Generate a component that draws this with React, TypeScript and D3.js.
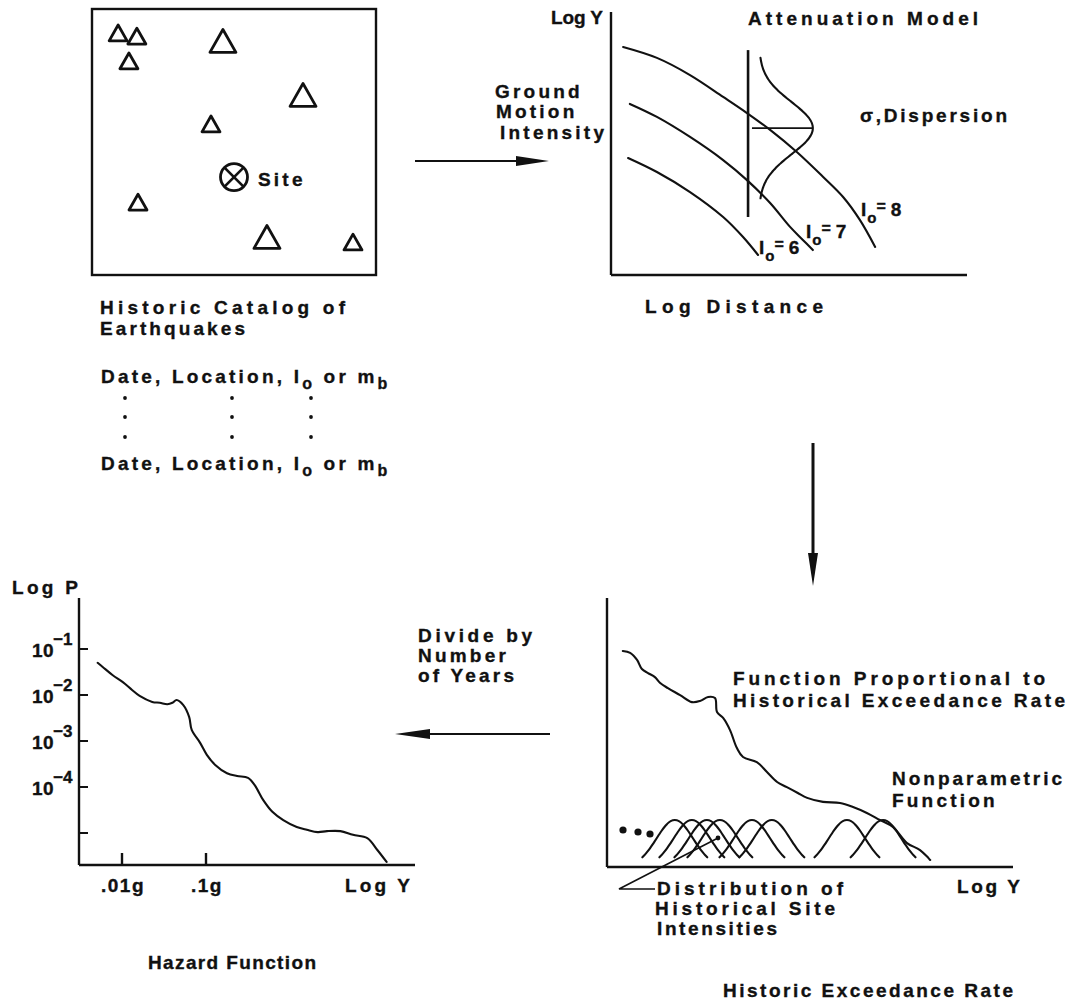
import React from 'react';
import * as d3 from 'd3';

const FONT = "'Liberation Sans', Arial, Helvetica, sans-serif";
const INK = '#111';

// ---------- Panel 1: historic catalog (map units 0..100) ----------
const quakeEast = [9.2, 15.8, 46.1, 13.0, 74.3, 41.9, 16.2, 61.6, 91.9];
const quakeNorth = [91.0, 89.8, 88.0, 80.5, 67.7, 56.8, 27.4, 14.3, 12.4];
const quakeIo = [6, 6, 7, 6, 7, 6, 6, 7, 6];
const siteEast = 50.0;
const siteNorth = 36.8;

// ---------- Panel 2: attenuation model (log distance / log Y, arbitrary units) ----------
const io8Dist = [3.4, 12.9, 22.2, 31.5, 38.2, 44.7, 52.2, 59.6, 65.2, 69.9, 74.2];
const io8LogY = [87.7, 83.5, 76.9, 68.5, 62.3, 55.8, 47.3, 37.7, 30.0, 21.2, 10.8];
const io7Dist = [5.3, 12.9, 22.2, 31.5, 38.2, 44.7, 50.3, 53.9, 56.7];
const io7LogY = [65.8, 60.8, 53.1, 44.2, 36.5, 27.7, 18.5, 13.5, 9.6];
const io6Dist = [4.8, 12.9, 22.2, 31.5, 37.1, 41.3];
const io6LogY = [45.0, 39.6, 31.9, 22.3, 14.6, 7.7];
const dispersionDist = 38.5;
const dispersionSpan = [22.3, 86.5];
const dispersionMean = 56.5;
const dispersionSigma = 10;
const dispersionPeak = 15.1;
const dispersionBase = 41.6;

// ---------- Panel 3: hazard function (log10 g, log10 P) ----------
const hazardLogG = [-2.29, -2.23, -2.11, -1.99, -1.88, -1.79, -1.64, -1.55, -1.46, -1.40, -1.35, -1.27, -1.20, -1.17, -1.07, -0.99, -0.89, -0.75, -0.63, -0.50, -0.42, -0.32, -0.21, -0.08, 0.08, 0.20, 0.33, 0.44, 0.60, 0.75, 0.92, 1.04, 1.15];
const hazardLogP = [-1.30, -1.39, -1.57, -1.72, -1.89, -2.02, -2.15, -2.17, -2.20, -2.17, -2.11, -2.22, -2.48, -2.76, -3.04, -3.30, -3.52, -3.70, -3.76, -3.80, -3.96, -4.28, -4.54, -4.72, -4.87, -4.93, -4.98, -4.96, -4.96, -5.04, -5.11, -5.37, -5.63];
const hazardPTicks = [-1, -2, -3, -4, -5];
const hazardPTickLabels = ['−1', '−2', '−3', '−4', ''];
const hazardGTicks = [-2, -1];
const hazardGTickLabels = ['.01g', '.1g'];

// ---------- Panel 4: historic exceedance rate (log Y / function, arbitrary units) ----------
const exceedLogY = [3.9, 5.7, 7.4, 8.6, 10.1, 11.8, 13.1, 15.0, 18.0, 20.9, 22.9, 24.9, 26.6, 27.1, 28.6, 30.3, 32.0, 33.5, 36.9, 39.4, 41.9, 44.3, 47.0, 49.3, 53.2, 57.4, 60.6, 64.0, 67.2, 70.4, 73.9, 77.1, 79.6];
const exceedValue = [80.3, 79.6, 77.0, 73.6, 72.1, 70.6, 68.4, 66.5, 63.9, 61.3, 61.7, 63.2, 62.8, 57.6, 55.4, 50.9, 44.2, 40.9, 39.0, 35.3, 31.6, 29.7, 27.5, 25.7, 24.2, 23.8, 22.3, 20.1, 17.5, 14.9, 8.9, 6.3, 2.6];
const siteIntensities = [16.7, 20.9, 24.6, 27.8, 35.7, 40.6, 59.1, 68.0];
const kernelPeak = 17.5;
const kernelSigma = 4.5;
const kernelHalfWidth = 8;

const txt: React.CSSProperties = {
  fontFamily: FONT,
  fontWeight: 700,
  fontSize: 19,
  letterSpacing: 3.2,
  fill: INK,
  stroke: INK,
  strokeWidth: 0.35,
};

function T(props: { x: number; y: number; children: React.ReactNode; size?: number; ls?: number; anchor?: string; len?: number }) {
  const { x, y, children, size, ls, anchor, len } = props;
  const style: React.CSSProperties = { ...txt, fontSize: size || 19, letterSpacing: len ? 0 : ls === undefined ? 3.2 : ls };
  return (
    <text
      x={x}
      y={y}
      textAnchor={anchor || 'start'}
      style={style}
      {...(len ? { textLength: len, lengthAdjust: 'spacing' } : {})}
    >
      {children}
    </text>
  );
}

function Arrow(props: { x1: number; y1: number; x2: number; y2: number; head: number; half: number; w: number }) {
  const { x1, y1, x2, y2, head, half, w } = props;
  const dx = x2 - x1, dy = y2 - y1;
  const len = Math.hypot(dx, dy);
  const ux = dx / len, uy = dy / len;
  const bx = x2 - ux * head, by = y2 - uy * head;
  const px = -uy, py = ux;
  const pts = [
    [x2, y2],
    [bx + px * half, by + py * half],
    [bx - px * half, by - py * half],
  ];
  return (
    <g>
      <line x1={x1} y1={y1} x2={bx} y2={by} stroke={INK} strokeWidth={w} />
      <polygon points={pts.map((p) => p.join(',')).join(' ')} fill={INK} />
    </g>
  );
}

function IoLabel(props: { x: number; y: number; n: string }) {
  const { x, y, n } = props;
  return (
    <text x={x} y={y} style={{ ...txt, letterSpacing: 0 }}>
      I
      <tspan dx={1} dy={7} style={{ fontSize: 15 }}>o</tspan>
      <tspan dx={0} dy={-11} style={{ fontSize: 16 }}>=</tspan>
      <tspan dx={5} dy={4}>{n}</tspan>
    </text>
  );
}

export default function App() {
  // Panel 1 scales
  const mx = d3.scaleLinear().domain([0, 100]).range([92, 376]);
  const my = d3.scaleLinear().domain([0, 100]).range([275, 9]);
  const triW = d3.scaleLinear().domain([6, 7]).range([18, 26]);
  const triPath = (w: number) => {
    const h = w * 0.88;
    return `M0,${-h / 2}L${w / 2},${h / 2}L${-w / 2},${h / 2}Z`;
  };

  // Panel 2 scales
  const ax = d3.scaleLinear().domain([0, 100]).range([611, 967]);
  const ay = d3.scaleLinear().domain([0, 100]).range([275, 15]);
  const attLine = d3
    .line<[number, number]>()
    .x((d) => ax(d[0]))
    .y((d) => ay(d[1]))
    .curve(d3.curveCatmullRom);
  const zip = (a: number[], b: number[]) => a.map((v, i) => [v, b[i]] as [number, number]);
  const bellT = d3.range(-27, 27.01, 0.5);
  const bell = d3
    .line<number>()
    .x((t) => ax(dispersionBase + dispersionPeak * Math.exp(-(t * t) / (2 * dispersionSigma * dispersionSigma))))
    .y((t) => ay(dispersionMean + t))
    .curve(d3.curveBasis)(bellT);

  // Panel 3 scales
  const hx = d3.scaleLinear().domain([-2, -1]).range([122, 206]);
  const hy = d3.scaleLinear().domain([-1, -5]).range([649, 833]);
  const hazLine = d3
    .line<[number, number]>()
    .x((d) => hx(d[0]))
    .y((d) => hy(d[1]))
    .curve(d3.curveCatmullRom)(zip(hazardLogG, hazardLogP));

  // Panel 4 scales
  const ex = d3.scaleLinear().domain([0, 100]).range([607, 1013]);
  const ey = d3.scaleLinear().domain([0, 100]).range([867, 598]);
  const exLine = d3
    .line<[number, number]>()
    .x((d) => ex(d[0]))
    .y((d) => ey(d[1]))
    .curve(d3.curveCatmullRom)(zip(exceedLogY, exceedValue));
  const kOff = d3.range(-kernelHalfWidth, kernelHalfWidth + 0.01, 0.5);
  const kernel = (c: number) =>
    d3
      .line<number>()
      .x((d) => ex(c + d))
      .y((d) => ey(kernelPeak * Math.exp(-(d * d) / (2 * kernelSigma * kernelSigma))))
      .curve(d3.curveBasis)(kOff);

  const lineProps = { stroke: INK, strokeWidth: 2.1, fill: 'none', strokeLinejoin: 'round' as const, strokeLinecap: 'round' as const };

  return (
    <svg width={1079} height={1007} style={{ position: 'absolute', left: 0, top: 0, background: '#fff' }}>
      <rect x={0} y={0} width={1079} height={1007} fill="#fff" />

      {/* ---------- Panel 1 ---------- */}
      <rect x={mx(0)} y={my(100)} width={mx(100) - mx(0)} height={my(0) - my(100)} fill="none" stroke={INK} strokeWidth={2.4} />
      {quakeEast.map((e, i) => (
        <path
          key={i}
          d={triPath(triW(quakeIo[i]))}
          transform={`translate(${mx(e)},${my(quakeNorth[i])})`}
          fill="none"
          stroke={INK}
          strokeWidth={2.8}
          strokeLinejoin="round"
        />
      ))}
      <g transform={`translate(${mx(siteEast)},${my(siteNorth)})`}>
        <circle r={13.5} fill="none" stroke={INK} strokeWidth={2.8} />
        <line x1={-9.5} y1={-9.5} x2={9.5} y2={9.5} stroke={INK} strokeWidth={2.6} />
        <line x1={-9.5} y1={9.5} x2={9.5} y2={-9.5} stroke={INK} strokeWidth={2.6} />
      </g>
      <T x={258} y={186}>Site</T>

      <T x={100} y={314} len={245}>Historic Catalog of</T>
      <T x={100} y={335} len={145}>Earthquakes</T>
      {[383, 470].map((yy) => (
        <text key={yy} x={101} y={yy} style={txt}>
          Date, Location, I
          <tspan dy={6} style={{ fontSize: 16 }}>o</tspan>
          <tspan dy={-6}> or m</tspan>
          <tspan dy={6} style={{ fontSize: 16 }}>b</tspan>
        </text>
      ))}
      {[125, 232, 311].map((cx) =>
        [398, 417, 437].map((cy) => <circle key={`${cx}-${cy}`} cx={cx} cy={cy} r={1.9} fill={INK} />)
      )}

      {/* arrow to attenuation */}
      <Arrow x1={415} y1={161} x2={549} y2={161} head={33} half={5} w={1.8} />
      <T x={495} y={98}>Ground</T>
      <T x={496} y={118}>Motion</T>
      <T x={500} y={139} len={104}>Intensity</T>

      {/* ---------- Panel 2 ---------- */}
      <line x1={ax(0)} y1={ay(100) - 3} x2={ax(0)} y2={ay(0)} stroke={INK} strokeWidth={2.4} />
      <line x1={ax(0)} y1={ay(0)} x2={ax(100)} y2={ay(0)} stroke={INK} strokeWidth={2.4} />
      <T x={551} y={24} len={52}>Log Y</T>
      <T x={748} y={25} len={230}>Attenuation Model</T>
      <path d={attLine(zip(io8Dist, io8LogY)) || ''} {...lineProps} />
      <path d={attLine(zip(io7Dist, io7LogY)) || ''} {...lineProps} />
      <path d={attLine(zip(io6Dist, io6LogY)) || ''} {...lineProps} />
      <line x1={ax(dispersionDist)} y1={ay(dispersionSpan[1])} x2={ax(dispersionDist)} y2={ay(dispersionSpan[0])} stroke={INK} strokeWidth={2.6} />
      <path d={bell || ''} {...lineProps} />
      <line
        x1={ax(dispersionDist + 1.1)}
        y1={ay(dispersionMean)}
        x2={ax(dispersionBase + dispersionPeak)}
        y2={ay(dispersionMean)}
        stroke={INK}
        strokeWidth={1.6}
      />
      <T x={860} y={122} len={147}>σ,Dispersion</T>
      <IoLabel x={759} y={254} n="6" />
      <IoLabel x={806} y={238} n="7" />
      <IoLabel x={861} y={216} n="8" />
      <T x={645} y={313} len={178}>Log Distance</T>

      {/* arrow down */}
      <Arrow x1={813} y1={443} x2={813} y2={586} head={33} half={5} w={3} />

      {/* ---------- Panel 3: hazard ---------- */}
      <line x1={79} y1={598} x2={79} y2={865} stroke={INK} strokeWidth={2.4} />
      <line x1={79} y1={865} x2={415} y2={865} stroke={INK} strokeWidth={2.4} />
      {hazardPTicks.map((p, i) => (
        <g key={p}>
          <line x1={79} y1={hy(p)} x2={88} y2={hy(p)} stroke={INK} strokeWidth={2} />
          {hazardPTickLabels[i] && (
            <text x={32} y={hy(p) + 8} style={{ ...txt, letterSpacing: 0.5 }}>
              10
              <tspan dx={-1} dy={-12} style={{ fontSize: 17, letterSpacing: 0 }}>{hazardPTickLabels[i]}</tspan>
            </text>
          )}
        </g>
      ))}
      {hazardGTicks.map((g, i) => (
        <g key={g}>
          <line x1={hx(g)} y1={853} x2={hx(g)} y2={865} stroke={INK} strokeWidth={2.4} />
          <T x={hx(g) + 1} y={892} anchor="middle" ls={1.5}>{hazardGTickLabels[i]}</T>
        </g>
      ))}
      <path d={hazLine || ''} {...lineProps} />
      <T x={12} y={594} len={66}>Log P</T>
      <T x={345} y={892} len={65}>Log Y</T>
      <T x={148} y={969} len={168}>Hazard Function</T>

      {/* arrow left */}
      <Arrow x1={550} y1={734} x2={395} y2={734} head={35} half={5} w={1.8} />
      <T x={418} y={642} len={114}>Divide by</T>
      <T x={418} y={662}>Number</T>
      <T x={418} y={682}>of Years</T>

      {/* ---------- Panel 4: exceedance ---------- */}
      <line x1={ex(0)} y1={ey(100)} x2={ex(0)} y2={ey(0)} stroke={INK} strokeWidth={2.4} />
      <line x1={ex(0)} y1={ey(0)} x2={ex(100)} y2={ey(0)} stroke={INK} strokeWidth={2.4} />
      <path d={exLine || ''} {...lineProps} />
      {siteIntensities.map((c) => (
        <path key={c} d={kernel(c) || ''} {...lineProps} />
      ))}
      {[623, 638, 650].map((cx, i) => (
        <circle key={cx} cx={cx} cy={830 + i * 2} r={3.6} fill={INK} />
      ))}
      <circle cx={718} cy={838} r={2.4} fill={INK} />
      <polyline points="718,838 619,889 655,889" fill="none" stroke={INK} strokeWidth={1.6} />
      <T x={733} y={685} len={312}>Function Proportional to</T>
      <T x={733} y={707} len={332}>Historical Exceedance Rate</T>
      <T x={892} y={785} len={170}>Nonparametric</T>
      <T x={892} y={807}>Function</T>
      <T x={657} y={895} len={186}>Distribution of</T>
      <T x={655} y={915} len={180}>Historical Site</T>
      <T x={657} y={935} len={120}>Intensities</T>
      <T x={957} y={893} len={63}>Log Y</T>
      <T x={723} y={997} len={290}>Historic Exceedance Rate</T>
    </svg>
  );
}
